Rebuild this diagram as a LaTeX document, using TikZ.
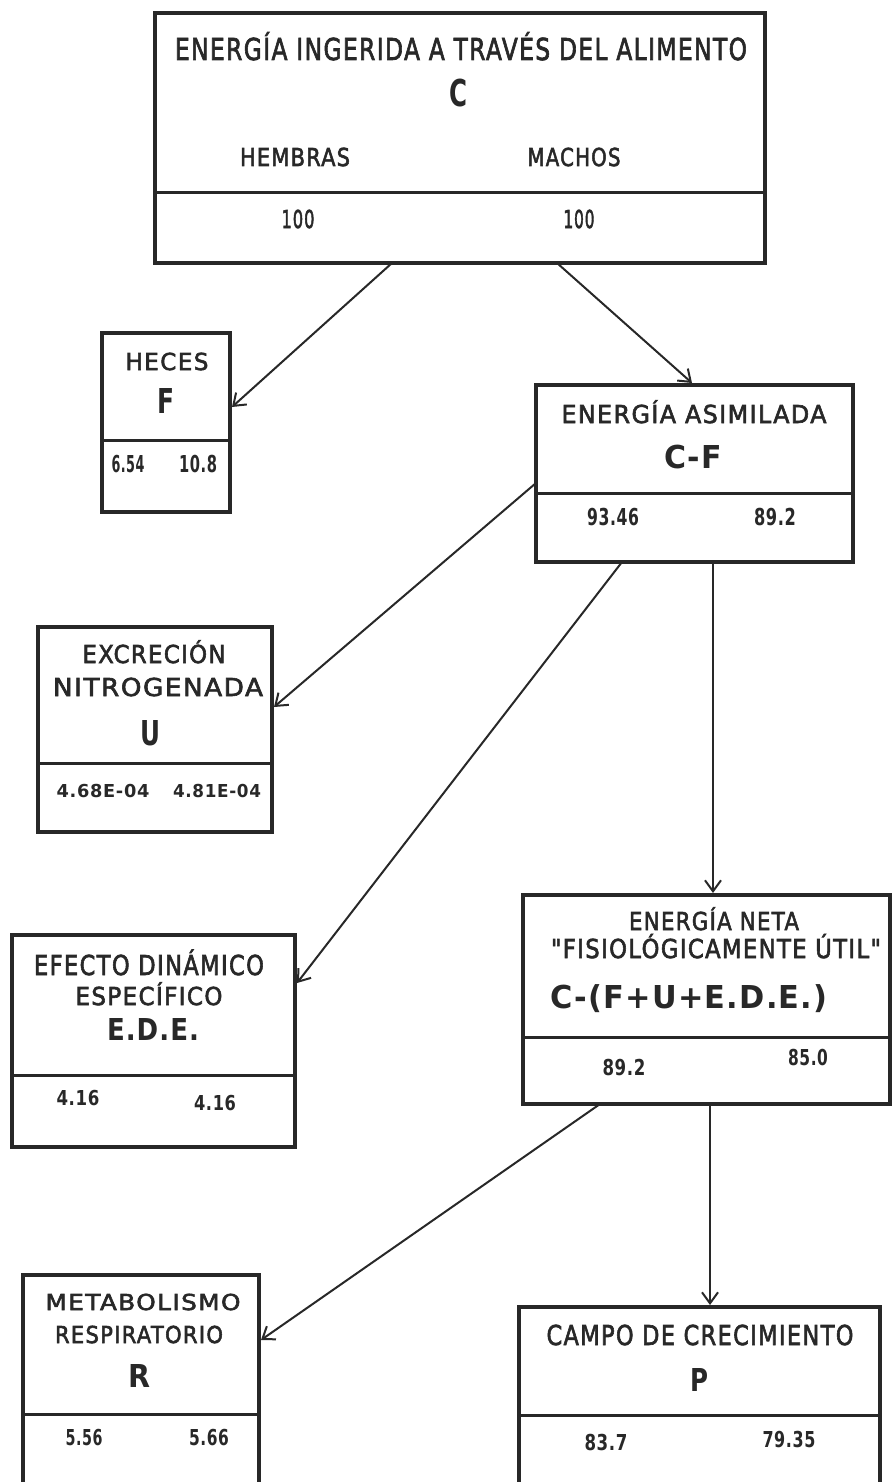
\documentclass[tikz,border=0pt]{standalone}
\usepackage{fontspec}
\setmainfont{DejaVu Sans}[Ligatures=TeXOff, LetterSpace=6, FakeBold=2.5]
\newfontfamily\heavyfont{DejaVu Sans}[Ligatures=TeXOff, LetterSpace=4]
\usepackage{graphicx}
\usetikzlibrary{arrows.meta,calc}
\definecolor{ink}{RGB}{40,40,40}
\newsavebox\tbox
\newsavebox\capbox
\newdimen\twd
\newdimen\thd
% \fitt{width}{cap height}{text}: scale text to a given width and cap height
\newcommand\fitt[3]{\sbox\tbox{#3}\sbox\capbox{H}\twd=\wd\tbox\thd=\ht\capbox
  \pgfmathsetmacro\sx{#1/\twd}\pgfmathsetmacro\sy{#2/\thd}\scalebox{\sx}[\sy]{\usebox\tbox}}
\newcommand\num[3]{\fitt{#1}{#2}{\heavyfont\bfseries #3}}
\tikzset{
  boxst/.style={draw=ink, line width=3.2pt, rectangle, inner sep=0pt, outer sep=0pt},
  divst/.style={draw=ink, line width=3pt},
  txt/.style={anchor=base, inner sep=0pt, outer sep=0pt, text=ink},
  arr/.style={draw=ink, line width=2pt, -{Straight Barb[length=11pt,width=16pt,line width=2pt]}},
}
\newcommand\panel[6]{% name, x1, y1, x2, y2, divider y
  \node[boxst, minimum width={(#4-#2)*1pt}, minimum height={(#5-#3)*1pt}] (#1) at ({(#2+#4)/2},{(#3+#5)/2}) {};
  \draw[divst] (#2,#6) -- (#4,#6);
}
\begin{document}
\begin{tikzpicture}[x=1pt,y=-1pt]
\useasboundingbox (0,0) rectangle (892,1482);
\clip (0,0) rectangle (892,1482);

% boxes
\panel{C}{155}{13}{765}{263}{193}
\panel{F}{102}{333}{230}{512}{440}
\panel{CF}{536}{385}{853}{562}{493}
\panel{U}{38}{627}{272}{832}{763}
\panel{EDE}{12}{935}{295}{1147}{1075}
\panel{N}{523}{895}{890}{1104}{1037}
\panel{R}{23}{1275}{259}{1497}{1414}
\panel{P}{519}{1307}{880}{1497}{1415}

% texts: C
\node[txt] (tC1) at (461,60) {\fitt{572}{22}{ENERGÍA INGERIDA A TRAVÉS DEL ALIMENTO}};
\node[txt] (tC2) at (458,107) {\num{18}{27}{C}};
\node[txt] (tC3) at (295,166) {\fitt{110}{18}{HEMBRAS}};
\node[txt] (tC4) at (574,166) {\fitt{93}{18}{MACHOS}};
\node[txt] (tC5) at (298,228) {\fitt{33}{18}{100}};
\node[txt] (tC6) at (579,228) {\fitt{31}{18}{100}};
% F
\node[txt] (tF1) at (167,370) {\fitt{83}{17}{HECES}};
\node[txt] (tF2) at (166,413) {\num{17}{25}{F}};
\node[txt] (tF3) at (128,472) {\num{33}{17}{6.54}};
\node[txt] (tF4) at (198,472) {\num{38}{17}{10.8}};
% C-F
\node[txt] (tCF1) at (694,423) {\fitt{265}{18}{ENERGÍA ASIMILADA}};
\node[txt] (tCF2) at (693,468) {\num{58}{23}{C-F}};
\node[txt] (tCF3) at (613,525) {\num{52}{17}{93.46}};
\node[txt] (tCF4) at (775,525) {\num{42}{17}{89.2}};
% U
\node[txt] (tU1) at (154,663) {\fitt{143}{18}{EXCRECIÓN}};
\node[txt] (tU2) at (158,696) {\fitt{210}{18}{NITROGENADA}};
\node[txt] (tU3) at (150,745) {\num{20}{25}{U}};
\node[txt] (tU4) at (103,797) {\num{93}{13}{4.68E-04}};
\node[txt] (tU5) at (217,797) {\num{88}{13}{4.81E-04}};
% EDE
\node[txt] (tE1) at (149,975) {\fitt{230}{20}{EFECTO DINÁMICO}};
\node[txt] (tE2) at (149,1005) {\fitt{147}{18}{ESPECÍFICO}};
\node[txt] (tE3) at (153,1040) {\num{92}{22}{E.D.E.}};
\node[txt] (tE4) at (78,1105) {\num{43}{15}{4.16}};
\node[txt] (tE5) at (215,1110) {\num{42}{15}{4.16}};
% N
\node[txt] (tN1) at (714,930) {\fitt{170}{18}{ENERGÍA NETA}};
\node[txt] (tN2) at (716,958) {\fitt{330}{19}{"FISIOLÓGICAMENTE ÚTIL"}};
\node[txt] (tN3) at (689,1008) {\num{277}{23}{C-(F+U+E.D.E.)}};
\node[txt] (tN4) at (624,1075) {\num{43}{16}{89.2}};
\node[txt] (tN5) at (808,1065) {\num{40}{16}{85.0}};
% R
\node[txt] (tR1) at (143,1310) {\fitt{195}{16}{METABOLISMO}};
\node[txt] (tR2) at (139,1343) {\fitt{168}{17}{RESPIRATORIO}};
\node[txt] (tR3) at (139,1387) {\num{22}{23}{R}};
\node[txt] (tR4) at (84,1445) {\num{37}{16}{5.56}};
\node[txt] (tR5) at (209,1445) {\num{40}{16}{5.66}};
% P
\node[txt] (tP1) at (700,1345) {\fitt{307}{20}{CAMPO DE CRECIMIENTO}};
\node[txt] (tP2) at (699,1391) {\num{18}{23}{P}};
\node[txt] (tP3) at (606,1450) {\num{43}{16}{83.7}};
\node[txt] (tP4) at (789,1447) {\num{53}{16}{79.35}};

% connectors
\draw[arr] ($(C.south west)+(237,0)$) -- ($(F.north east)+(2,74)$);
\draw[arr] ($(C.south west)+(402,0)$) -- ($(CF.north west)+(156,-2)$);
\draw[arr] ($(CF.north west)+(0,98)$) -- ($(U.north east)+(2,80)$);
\draw[arr] ($(CF.south west)+(86,0)$) -- ($(EDE.north east)+(2,48)$);
\draw[arr] ($(CF.south west)+(177,0)$) -- ($(N.north west)+(190,-2)$);
\draw[arr] ($(N.south west)+(77,0)$) -- ($(R.north east)+(2,65)$);
\draw[arr] ($(N.south west)+(187,0)$) -- ($(P.north west)+(191,-2)$);
\end{tikzpicture}
\end{document}
